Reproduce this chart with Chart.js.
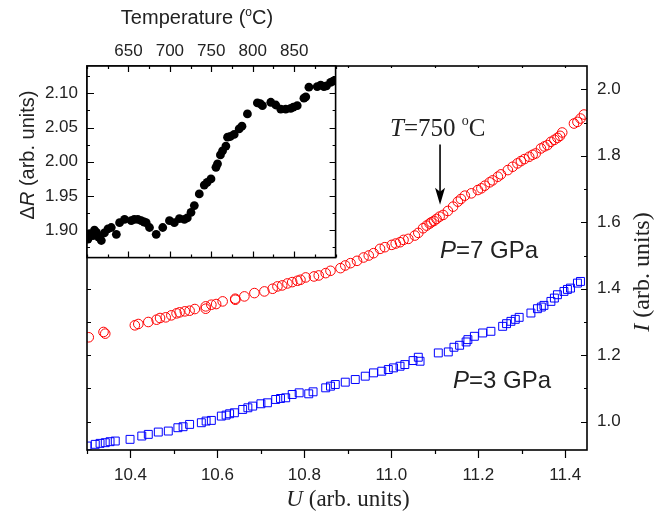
<!DOCTYPE html>
<html>
<head>
<meta charset="utf-8">
<script src="https://cdn.jsdelivr.net/npm/chart.js@4.4.0/dist/chart.umd.min.js"></script>
<style>
  html, body { margin: 0; padding: 0; background: #fff; }
  #wrap { position: relative; width: 661px; height: 514px; }
  #wrap canvas { position: absolute; left: 0; top: 0; }
</style>
</head>
<body>
<div id="wrap">
  <canvas id="main" width="661" height="514"></canvas>
  <canvas id="inset" width="340" height="262"></canvas>
</div>
<script>
// P = 7 GPa (red circles): U vs I
const p7U = [10.304, 10.338, 10.342, 10.410, 10.418, 10.441, 10.460, 10.468, 10.481, 10.494,
  10.506, 10.513, 10.525, 10.536, 10.548, 10.573, 10.573, 10.586, 10.597, 10.612,
  10.641, 10.641, 10.662, 10.685, 10.708, 10.727, 10.738, 10.749, 10.761, 10.772,
  10.784, 10.791, 10.803, 10.822, 10.833, 10.849, 10.860, 10.883, 10.894, 10.906,
  10.921, 10.936, 10.948, 10.959, 10.974, 10.985, 11.001, 11.010, 11.020, 11.028,
  11.039, 11.054, 11.062, 11.073, 11.081, 11.088, 11.092, 11.098, 11.104, 11.111,
  11.119, 11.130, 11.142, 11.153, 11.160, 11.169, 11.184, 11.199, 11.207, 11.215,
  11.226, 11.233, 11.245, 11.252, 11.268, 11.279, 11.290, 11.298, 11.306, 11.317,
  11.325, 11.332, 11.344, 11.352, 11.359, 11.367, 11.375, 11.382, 11.388, 11.393,
  11.420, 11.428, 11.435, 11.443];
const p7I = [1.254, 1.270, 1.265, 1.290, 1.294, 1.300, 1.307, 1.312, 1.314, 1.320,
  1.326, 1.329, 1.332, 1.334, 1.339, 1.340, 1.347, 1.352, 1.354, 1.362,
  1.367, 1.370, 1.377, 1.387, 1.392, 1.400, 1.407, 1.410, 1.416, 1.420,
  1.424, 1.427, 1.434, 1.437, 1.440, 1.447, 1.454, 1.462, 1.470, 1.477,
  1.484, 1.494, 1.500, 1.507, 1.520, 1.525, 1.532, 1.536, 1.540, 1.547,
  1.550, 1.560, 1.568, 1.582, 1.590, 1.596, 1.600, 1.604, 1.610, 1.617,
  1.622, 1.634, 1.647, 1.662, 1.670, 1.680, 1.687, 1.697, 1.702, 1.710,
  1.720, 1.726, 1.737, 1.744, 1.757, 1.767, 1.777, 1.784, 1.790, 1.797,
  1.803, 1.807, 1.822, 1.828, 1.832, 1.842, 1.848, 1.854, 1.860, 1.870,
  1.897, 1.902, 1.912, 1.924];

// P = 3 GPa (blue squares): U vs I
const p3U = [10.300, 10.319, 10.330, 10.342, 10.353, 10.365, 10.399, 10.426, 10.441, 10.464,
  10.487, 10.509, 10.521, 10.536, 10.563, 10.574, 10.586, 10.609, 10.620, 10.628,
  10.639, 10.658, 10.670, 10.681, 10.700, 10.715, 10.734, 10.745, 10.757, 10.772,
  10.788, 10.810, 10.820, 10.849, 10.860, 10.871, 10.894, 10.917, 10.940, 10.959,
  10.978, 10.993, 11.005, 11.020, 11.031, 11.050, 11.062, 11.066, 11.108, 11.131,
  11.144, 11.157, 11.172, 11.176, 11.191, 11.210, 11.229, 11.256, 11.265, 11.275,
  11.285, 11.294, 11.321, 11.336, 11.345, 11.351, 11.367, 11.375, 11.382, 11.397,
  11.405, 11.412, 11.428, 11.435];
const p3I = [0.927, 0.932, 0.935, 0.937, 0.940, 0.942, 0.947, 0.957, 0.962, 0.969,
  0.972, 0.982, 0.985, 0.992, 0.997, 1.002, 1.004, 1.017, 1.020, 1.024,
  1.027, 1.037, 1.042, 1.047, 1.054, 1.057, 1.067, 1.070, 1.072, 1.082,
  1.087, 1.084, 1.090, 1.102, 1.107, 1.112, 1.119, 1.127, 1.137, 1.147,
  1.152, 1.157, 1.162, 1.167, 1.172, 1.184, 1.194, 1.182, 1.207, 1.210,
  1.224, 1.230, 1.240, 1.247, 1.257, 1.267, 1.272, 1.287, 1.295, 1.302,
  1.308, 1.314, 1.327, 1.340, 1.345, 1.350, 1.362, 1.372, 1.382, 1.392,
  1.398, 1.402, 1.417, 1.422];

// inset: delta R vs temperature
const insetT = [601.2, 603.0, 607.2, 609.0, 611.3, 614.0, 617.3, 621.0, 625.3, 629.3,
  635.4, 639.3, 645.3, 653.4, 657.0, 661.3, 665.4, 669.0, 671.4, 675.4,
  683.5, 691.4, 699.5, 705.4, 711.5, 717.5, 721.0, 725.5, 729.5, 735.5,
  741.5, 745.0, 749.6, 755.6, 757.5, 761.0, 763.6, 767.6, 769.6, 773.0,
  777.6, 783.6, 787.0, 793.6, 805.6, 809.0, 811.7, 821.8, 827.8, 833.8,
  839.8, 845.8, 849.0, 853.7, 861.8, 864.0, 867.8, 877.8, 882.0, 885.9,
  889.0, 893.9, 897.0];
const insetR = [1.887, 1.895, 1.892, 1.900, 1.897, 1.890, 1.885, 1.896, 1.902, 1.904,
  1.894, 1.911, 1.916, 1.914, 1.916, 1.916, 1.914, 1.912, 1.911, 1.904,
  1.894, 1.904, 1.914, 1.911, 1.917, 1.916, 1.918, 1.926, 1.936, 1.953,
  1.966, 1.970, 1.975, 1.992, 1.997, 2.010, 2.016, 2.023, 2.036, 2.037,
  2.040, 2.048, 2.052, 2.070, 2.086, 2.085, 2.082, 2.087, 2.083, 2.077,
  2.077, 2.078, 2.080, 2.082, 2.093, 2.095, 2.109, 2.110, 2.112, 2.110,
  2.111, 2.116, 2.118];

// labelled ticks (the others are drawn as minor ticks)
const uTickLabels = ['10.4', '10.6', '10.8', '11.0', '11.2', '11.4'];
const iTickLabels = ['1.0', '1.2', '1.4', '1.6', '1.8', '2.0'];
const tTickLabels = ['650', '700', '750', '800', '850'];
const rTickLabels = ['1.90', '1.95', '2.00', '2.05', '2.10'];

const SANS = '"Liberation Sans", Arial, sans-serif';
const SERIF = '"Liberation Serif", "Times New Roman", serif';
const INK = '#222';

// draw a row of text pieces with different fonts
function runsWidth(ctx, runs) {
  let w = 0;
  runs.forEach(r => { ctx.font = r.font; w += ctx.measureText(r.text).width; });
  return w;
}
function drawRuns(ctx, x, y, runs) {
  let cx = x;
  runs.forEach(r => {
    ctx.font = r.font;
    ctx.fillText(r.text, cx, y - (r.rise || 0));
    cx += ctx.measureText(r.text).width;
  });
}

// ticks along one edge of the plot frame, len > 0 goes down / right
function edgeTicks(ctx, scale, edge, majorLen, minorLen) {
  const a = scale.chart.chartArea;
  ctx.beginPath();
  scale.ticks.forEach(t => {
    const len = t.label !== '' ? majorLen : minorLen;
    const p = Math.round(scale.getPixelForValue(t.value)) + 0.5;
    if (edge === 'top' || edge === 'bottom') {
      const y = edge === 'top' ? a.top : a.bottom;
      ctx.moveTo(p, y); ctx.lineTo(p, y + len);
    } else {
      const x = edge === 'left' ? a.left : a.right;
      ctx.moveTo(x, p); ctx.lineTo(x + len, p);
    }
  });
  ctx.stroke();
}

function frame(ctx, a) {
  ctx.lineWidth = 1.6;
  ctx.strokeStyle = '#000';
  ctx.strokeRect(a.left, a.top, a.right - a.left, a.bottom - a.top);
}

// fixed axis box size, no extra room for end labels
function fixSize(w, h) {
  return s => {
    if (w !== null) s.width = w;
    if (h !== null) s.height = h;
    s.paddingLeft = s.paddingRight = s.paddingTop = s.paddingBottom = 0;
  };
}

const mainDecor = {
  id: 'mainDecor',
  afterDraw(chart) {
    const ctx = chart.ctx;
    const a = chart.chartArea;
    const xs = chart.scales.x, ys = chart.scales.y;
    ctx.save();
    frame(ctx, a);
    ctx.lineWidth = 1.2;
    edgeTicks(ctx, xs, 'bottom', 8, 4);
    edgeTicks(ctx, xs, 'top', 2, 2);
    edgeTicks(ctx, ys, 'right', -6, -3);
    edgeTicks(ctx, ys, 'left', 4, 4);

    ctx.fillStyle = INK;
    ctx.textBaseline = 'alphabetic';

    // x title
    const xt = [{ text: 'U', font: 'italic 23px ' + SERIF }, { text: ' (arb. units)', font: '23px ' + SERIF }];
    drawRuns(ctx, (a.left + a.right) / 2 + 11 - runsWidth(ctx, xt) / 2, 506, xt);

    // right y title
    const yt = [{ text: 'I', font: 'italic 24px ' + SERIF }, { text: ' (arb. units)', font: '24px ' + SERIF }];
    ctx.save();
    ctx.translate(649, 272);
    ctx.rotate(-Math.PI / 2);
    drawRuns(ctx, -runsWidth(ctx, yt) / 2, 0, yt);
    ctx.restore();

    // annotations
    drawRuns(ctx, 390, 136, [
      { text: 'T', font: 'italic 25px ' + SERIF },
      { text: '=750 ', font: '25px ' + SERIF },
      { text: 'o', font: '14px ' + SERIF, rise: 11 },
      { text: 'C', font: '25px ' + SERIF }
    ]);
    drawRuns(ctx, 440, 258, [
      { text: 'P', font: 'italic 24px ' + SANS },
      { text: '=7 GPa', font: '24px ' + SANS }
    ]);
    drawRuns(ctx, 453, 388, [
      { text: 'P', font: 'italic 24px ' + SANS },
      { text: '=3 GPa', font: '24px ' + SANS }
    ]);

    // arrow pointing at T = 750 C on the 7 GPa curve
    const ax = xs.getPixelForValue(11.112);
    const y0 = ys.getPixelForValue(1.834), y1 = ys.getPixelForValue(1.653);
    ctx.strokeStyle = '#000';
    ctx.fillStyle = '#000';
    ctx.lineWidth = 1.6;
    ctx.beginPath();
    ctx.moveTo(ax, y0); ctx.lineTo(ax, y1 - 8);
    ctx.stroke();
    ctx.beginPath();
    ctx.moveTo(ax, y1); ctx.lineTo(ax - 5, y1 - 17); ctx.lineTo(ax, y1 - 13); ctx.lineTo(ax + 5, y1 - 17);
    ctx.closePath();
    ctx.fill();
    ctx.restore();
  }
};

const insetDecor = {
  id: 'insetDecor',
  beforeDraw(chart) {
    const a = chart.chartArea;
    chart.ctx.save();
    chart.ctx.fillStyle = '#fff';
    chart.ctx.fillRect(a.left, a.top, a.right - a.left, a.bottom - a.top);
    chart.ctx.restore();
  },
  afterDraw(chart) {
    const ctx = chart.ctx;
    const a = chart.chartArea;
    ctx.save();
    frame(ctx, a);
    ctx.lineWidth = 1.2;
    edgeTicks(ctx, chart.scales.x, 'top', 6, 3);
    edgeTicks(ctx, chart.scales.x, 'bottom', -6, -3);
    edgeTicks(ctx, chart.scales.y, 'left', 7, 3);
    edgeTicks(ctx, chart.scales.y, 'right', -6, -3);

    ctx.fillStyle = INK;
    const tt = [
      { text: 'Temperature (', font: '20px ' + SANS },
      { text: 'o', font: '12px ' + SANS, rise: 8 },
      { text: 'C)', font: '20px ' + SANS }
    ];
    drawRuns(ctx, 197 - runsWidth(ctx, tt) / 2, 24, tt);

    const rt = [
      { text: '\u0394', font: '20px ' + SANS },
      { text: 'R', font: 'italic 20px ' + SANS },
      { text: ' (arb. units)', font: '20px ' + SANS }
    ];
    ctx.save();
    ctx.translate(34, 155);
    ctx.rotate(-Math.PI / 2);
    drawRuns(ctx, -runsWidth(ctx, rt) / 2, 0, rt);
    ctx.restore();
    ctx.restore();
  }
};

function axisTicks(step, pad, size, fmt) {
  return {
    stepSize: step, includeBounds: false, autoSkip: false, maxRotation: 0,
    padding: pad, color: INK, font: { family: SANS, size: size }, callback: fmt
  };
}
const noGrid = { display: false, drawTicks: false };

new Chart(document.getElementById('main'), {
  type: 'scatter',
  data: {
    datasets: [
      {
        label: 'P=7 GPa',
        data: p7U.map((u, i) => ({ x: u, y: p7I[i] })),
        pointStyle: 'circle', pointRadius: 4.8, pointBorderWidth: 1,
        borderColor: '#ff0000', backgroundColor: 'rgba(0,0,0,0)'
      },
      {
        label: 'P=3 GPa',
        data: p3U.map((u, i) => ({ x: u, y: p3I[i] })),
        pointStyle: 'rect', pointRadius: 5.6, pointBorderWidth: 1,
        borderColor: '#0000ff', backgroundColor: 'rgba(0,0,0,0)'
      }
    ]
  },
  options: {
    responsive: false, animation: false, events: [],
    layout: { padding: { left: 87, top: 66, right: 0, bottom: 0 } },
    plugins: { legend: { display: false }, tooltip: { enabled: false } },
    scales: {
      x: {
        type: 'linear', position: 'bottom', min: 10.3, max: 11.45,
        grid: noGrid, border: { display: false },
        ticks: axisTicks(0.1, 15, 17, v => uTickLabels.includes(v.toFixed(1)) ? v.toFixed(1) : ''),
        afterFit: fixSize(null, 64)
      },
      y: {
        type: 'linear', position: 'right', min: 0.915, max: 2.07,
        grid: noGrid, border: { display: false },
        ticks: axisTicks(0.1, 10, 17, v => iTickLabels.includes(v.toFixed(1)) ? v.toFixed(1) : ''),
        afterFit: fixSize(74, null)
      }
    }
  },
  plugins: [mainDecor]
});

new Chart(document.getElementById('inset'), {
  type: 'scatter',
  data: {
    datasets: [{
      label: 'delta R',
      data: insetT.map((t, i) => ({ x: t, y: insetR[i] })),
      pointStyle: 'circle', pointRadius: 4.4, pointBorderWidth: 0,
      backgroundColor: '#000', borderColor: '#000'
    }]
  },
  options: {
    responsive: false, animation: false, events: [],
    layout: { padding: { left: 0, top: 0, right: 4, bottom: 3 } },
    plugins: { legend: { display: false }, tooltip: { enabled: false } },
    scales: {
      x: {
        type: 'linear', position: 'top', min: 600, max: 900,
        grid: noGrid, border: { display: false },
        ticks: axisTicks(25, 4, 17, v => tTickLabels.includes(String(v)) ? String(v) : ''),
        afterFit: fixSize(null, 66)
      },
      y: {
        type: 'linear', position: 'left', min: 1.86, max: 2.14,
        grid: noGrid, border: { display: false },
        ticks: axisTicks(0.025, 9, 17, v => rTickLabels.includes(v.toFixed(2)) ? v.toFixed(2) : ''),
        afterFit: fixSize(87, null)
      }
    }
  },
  plugins: [insetDecor]
});
</script>
</body>
</html>
